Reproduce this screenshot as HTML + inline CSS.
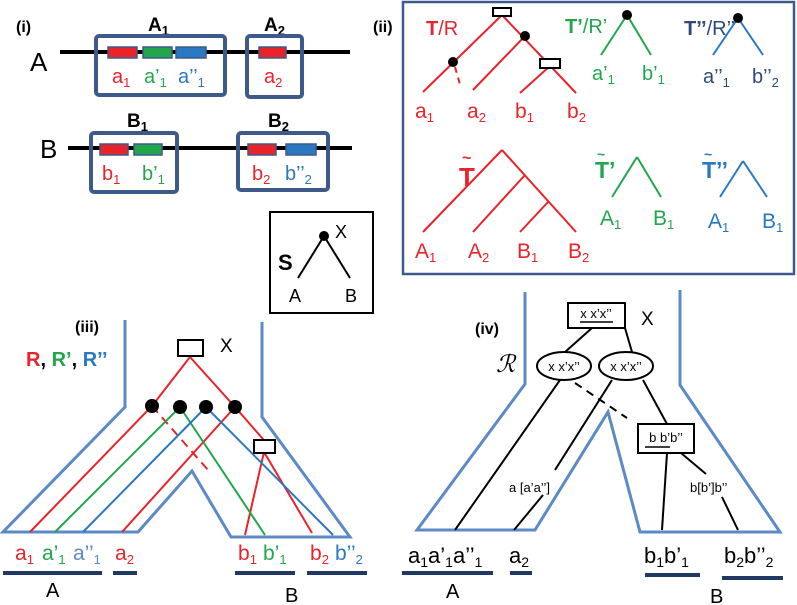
<!DOCTYPE html>
<html><head><meta charset="utf-8"><style>
html,body{margin:0;padding:0;background:#fff;}
svg{display:block;font-family:"Liberation Sans",sans-serif;}
</style></head><body>
<svg width="797" height="605" viewBox="0 0 797 605" xmlns="http://www.w3.org/2000/svg">
<defs>
<style>
.r{fill:#e8232a}.g{fill:#22a64c}.b{fill:#2a78c2}.n{fill:#2f4a7a}.k{fill:#000}
.sr{stroke:#e8232a;stroke-width:2;fill:none}
.sg{stroke:#22a64c;stroke-width:2;fill:none}
.sb{stroke:#2a78c2;stroke-width:2;fill:none}
.sk{stroke:#000;stroke-width:2;fill:none}
.ol{stroke:#5b8ac6;stroke-width:3;fill:none}
.bx{stroke:#3d5a8a;stroke-width:4;fill:none}
.bar{stroke:#1f3864;stroke-width:4}
</style>
</defs>

<!-- Panel (i) -->
<text x="16" y="32" font-size="16" font-weight="bold">(i)</text>
<text x="148" y="31" font-size="19" font-weight="bold">A<tspan font-size="13" dy="4">1</tspan></text>
<text x="264" y="31" font-size="19" font-weight="bold">A<tspan font-size="13" dy="4">2</tspan></text>
<text x="30" y="71" font-size="26">A</text>
<line x1="60" y1="52" x2="350" y2="52" stroke="#000" stroke-width="4"/>
<rect x="96" y="36" width="129" height="59" rx="3" class="bx"/>
<rect x="247" y="36" width="55" height="61" rx="3" class="bx"/>
<rect x="108" y="47" width="29" height="11" fill="#e8232a" stroke="#3d5a8a" stroke-width="1.5"/>
<rect x="143" y="47" width="29" height="11" fill="#22a64c" stroke="#3d5a8a" stroke-width="1.5"/>
<rect x="176" y="47" width="30" height="11" fill="#2a78c2" stroke="#3d5a8a" stroke-width="1.5"/>
<rect x="259" y="47" width="27" height="11" fill="#e8232a" stroke="#3d5a8a" stroke-width="1.5"/>
<text x="112" y="83" font-size="20" class="r">a<tspan font-size="13" dy="4">1</tspan></text>
<text x="144" y="83" font-size="20" class="g">a’<tspan font-size="13" dy="4">1</tspan></text>
<text x="178" y="83" font-size="20" class="b">a’’<tspan font-size="13" dy="4">1</tspan></text>
<text x="264" y="83" font-size="20" class="r">a<tspan font-size="13" dy="4">2</tspan></text>

<text x="127" y="127" font-size="19" font-weight="bold">B<tspan font-size="13" dy="4">1</tspan></text>
<text x="268" y="127" font-size="19" font-weight="bold">B<tspan font-size="13" dy="4">2</tspan></text>
<text x="40" y="158" font-size="26">B</text>
<line x1="68" y1="148" x2="352" y2="148" stroke="#000" stroke-width="4"/>
<rect x="91" y="133" width="86" height="59" rx="3" class="bx"/>
<rect x="238" y="133" width="90" height="57" rx="3" class="bx"/>
<rect x="100" y="144" width="28" height="11" fill="#e8232a" stroke="#3d5a8a" stroke-width="1.5"/>
<rect x="134" y="144" width="28" height="11" fill="#22a64c" stroke="#3d5a8a" stroke-width="1.5"/>
<rect x="248" y="144" width="28" height="11" fill="#e8232a" stroke="#3d5a8a" stroke-width="1.5"/>
<rect x="286" y="144" width="30" height="11" fill="#2a78c2" stroke="#3d5a8a" stroke-width="1.5"/>
<text x="102" y="180" font-size="20" class="r">b<tspan font-size="13" dy="4">1</tspan></text>
<text x="142" y="180" font-size="20" class="g">b’<tspan font-size="13" dy="4">1</tspan></text>
<text x="252" y="180" font-size="20" class="r">b<tspan font-size="13" dy="4">2</tspan></text>
<text x="285" y="180" font-size="20" class="b">b’’<tspan font-size="13" dy="4">2</tspan></text>

<!-- Panel (ii) -->
<text x="373" y="32" font-size="16" font-weight="bold">(ii)</text>
<rect x="403" y="2" width="391" height="272" fill="none" stroke="#3d5a8a" stroke-width="2.5"/>
<text x="426" y="35" font-size="20" class="r"><tspan font-weight="bold">T</tspan>/R</text>
<line x1="502" y1="15" x2="423" y2="92" class="sr"/>
<line x1="502" y1="15" x2="576" y2="93" class="sr"/>
<line x1="525" y1="36" x2="473" y2="90" class="sr"/>
<line x1="550" y1="66" x2="520" y2="93" class="sr"/>
<line x1="455" y1="67" x2="461" y2="88" class="sr" stroke-dasharray="6,5"/>
<rect x="493" y="8" width="18" height="8" fill="#fff" stroke="#000" stroke-width="2"/>
<rect x="540" y="59" width="20" height="9" fill="#fff" stroke="#000" stroke-width="2"/>
<circle cx="453" cy="62" r="5"/>
<circle cx="525" cy="36" r="5"/>
<text x="415" y="118" font-size="21" class="r">a<tspan font-size="13" dy="4">1</tspan></text>
<text x="467" y="118" font-size="21" class="r">a<tspan font-size="13" dy="4">2</tspan></text>
<text x="515" y="118" font-size="21" class="r">b<tspan font-size="13" dy="4">1</tspan></text>
<text x="567" y="118" font-size="21" class="r">b<tspan font-size="13" dy="4">2</tspan></text>

<text x="565" y="33" font-size="20" class="g"><tspan font-weight="bold">T’</tspan>/R’</text>
<line x1="627" y1="15" x2="601" y2="55" class="sg"/>
<line x1="627" y1="15" x2="651" y2="55" class="sg"/>
<circle cx="627" cy="15" r="5"/>
<text x="592" y="80" font-size="20" class="g">a’<tspan font-size="13" dy="4">1</tspan></text>
<text x="642" y="80" font-size="20" class="g">b’<tspan font-size="13" dy="4">1</tspan></text>

<text x="684" y="35" font-size="20" class="n"><tspan font-weight="bold">T’’</tspan>/R’’</text>
<line x1="738" y1="18" x2="713" y2="55" class="sb"/>
<line x1="738" y1="18" x2="763" y2="55" class="sb"/>
<circle cx="738" cy="18" r="5"/>
<text x="703" y="83" font-size="20" class="n">a’’<tspan font-size="13" dy="4">1</tspan></text>
<text x="752" y="83" font-size="20" class="n">b’’<tspan font-size="13" dy="4">2</tspan></text>

<text x="459" y="186" font-size="26" font-weight="bold" class="r">T</text>
<text x="462" y="163" font-size="16" font-weight="bold" class="r">~</text>
<line x1="502" y1="150" x2="423" y2="232" class="sr"/>
<line x1="502" y1="150" x2="576" y2="232" class="sr"/>
<line x1="525" y1="175" x2="473" y2="232" class="sr"/>
<line x1="549" y1="201" x2="520" y2="232" class="sr"/>
<text x="415" y="258" font-size="21" class="r">A<tspan font-size="13" dy="4">1</tspan></text>
<text x="468" y="258" font-size="21" class="r">A<tspan font-size="13" dy="4">2</tspan></text>
<text x="517" y="258" font-size="21" class="r">B<tspan font-size="13" dy="4">1</tspan></text>
<text x="568" y="258" font-size="21" class="r">B<tspan font-size="13" dy="4">2</tspan></text>

<text x="595" y="178" font-size="23" font-weight="bold" class="g">T’</text>
<text x="597" y="159" font-size="14" font-weight="bold" class="g">~</text>
<line x1="637" y1="157" x2="612" y2="197" class="sg"/>
<line x1="637" y1="157" x2="661" y2="197" class="sg"/>
<text x="600" y="225" font-size="21" class="g">A<tspan font-size="13" dy="4">1</tspan></text>
<text x="653" y="225" font-size="21" class="g">B<tspan font-size="13" dy="4">1</tspan></text>

<text x="702" y="178" font-size="23" font-weight="bold" class="b">T’’</text>
<text x="704" y="159" font-size="14" font-weight="bold" class="b">~</text>
<line x1="743" y1="161" x2="720" y2="197" class="sb"/>
<line x1="743" y1="161" x2="767" y2="197" class="sb"/>
<text x="708" y="228" font-size="21" class="b">A<tspan font-size="13" dy="4">1</tspan></text>
<text x="762" y="228" font-size="21" class="b">B<tspan font-size="13" dy="4">1</tspan></text>

<!-- S box -->
<rect x="270" y="212" width="103" height="101" fill="none" stroke="#000" stroke-width="2"/>
<text x="278" y="270" font-size="22" font-weight="bold">S</text>
<line x1="324" y1="236" x2="298" y2="278" class="sk"/>
<line x1="324" y1="236" x2="350" y2="278" class="sk"/>
<circle cx="324" cy="236" r="5"/>
<text x="335" y="238" font-size="18">X</text>
<text x="289" y="302" font-size="18">A</text>
<text x="345" y="302" font-size="18">B</text>

<!-- Panel (iii) -->
<text x="75" y="332" font-size="16" font-weight="bold">(iii)</text>
<text x="26" y="366" font-size="20" font-weight="bold"><tspan class="r">R</tspan>, <tspan class="g">R’</tspan>, <tspan class="b">R’’</tspan></text>
<polyline points="125,320 125,407 3,532 138,532 192,471 231,537 350,537 262,417 262,322" class="ol"/>
<line x1="190" y1="357" x2="152" y2="406" class="sr"/>
<line x1="190" y1="357" x2="235" y2="407" class="sr"/>
<line x1="152" y1="406" x2="30" y2="532" class="sr"/>
<line x1="152" y1="406" x2="208" y2="470" class="sr" stroke-dasharray="9,6"/>
<line x1="235" y1="407" x2="122" y2="532" class="sr"/>
<line x1="235" y1="407" x2="270" y2="447" class="sr"/>
<line x1="264" y1="452" x2="245" y2="535" class="sr"/>
<line x1="264" y1="452" x2="312" y2="533" class="sr"/>
<line x1="180" y1="407" x2="55" y2="532" class="sg"/>
<line x1="180" y1="407" x2="265" y2="535" class="sg"/>
<line x1="206" y1="407" x2="83" y2="532" class="sb"/>
<line x1="206" y1="407" x2="333" y2="535" class="sb"/>
<rect x="178" y="340" width="25" height="16" fill="#fff" stroke="#000" stroke-width="2"/>
<rect x="254" y="440" width="21" height="13" fill="#fff" stroke="#000" stroke-width="2"/>
<circle cx="152" cy="406" r="7"/><circle cx="180" cy="407" r="7"/>
<circle cx="206" cy="407" r="7"/><circle cx="235" cy="407" r="7"/>
<text x="220" y="352" font-size="19">X</text>
<text x="15" y="560" font-size="21" class="r">a<tspan font-size="13" dy="4">1</tspan></text>
<text x="42" y="560" font-size="21" class="g">a’<tspan font-size="13" dy="4">1</tspan></text>
<text x="73" y="560" font-size="21" fill="#5b8ac6">a’’<tspan font-size="13" dy="4">1</tspan></text>
<text x="115" y="560" font-size="21" class="r">a<tspan font-size="13" dy="4">2</tspan></text>
<text x="238" y="560" font-size="21" class="r">b<tspan font-size="13" dy="4">1</tspan></text>
<text x="263" y="560" font-size="21" class="g">b’<tspan font-size="13" dy="4">1</tspan></text>
<text x="310" y="560" font-size="21" class="r">b<tspan font-size="13" dy="4">2</tspan></text>
<text x="335" y="560" font-size="21" class="b">b’’<tspan font-size="13" dy="4">2</tspan></text>
<line x1="3" y1="573" x2="102" y2="573" class="bar"/>
<line x1="113" y1="573" x2="137" y2="573" class="bar"/>
<line x1="235" y1="573" x2="295" y2="573" class="bar"/>
<line x1="307" y1="573" x2="367" y2="573" class="bar"/>
<text x="46" y="597" font-size="20">A</text>
<text x="285" y="602" font-size="20">B</text>

<!-- Panel (iv) -->
<text x="475" y="334" font-size="16" font-weight="bold">(iv)</text>
<text x="496" y="372" font-size="24" font-style="italic" font-family="Liberation Serif,serif">ℛ</text>
<polyline points="525,292 525,384 417,530 535,530 608,412 640,532 780,532 680,385 680,290" class="ol"/>
<line x1="592" y1="328" x2="565" y2="352" class="sk"/>
<line x1="625" y1="328" x2="632" y2="352" class="sk"/>
<line x1="560" y1="380" x2="455" y2="530" class="sk"/>
<line x1="575" y1="383" x2="627" y2="418" class="sk" stroke-dasharray="8,6"/>
<line x1="612" y1="380" x2="555" y2="470" class="sk"/>
<line x1="543" y1="495" x2="514" y2="530" class="sk"/>
<line x1="643" y1="380" x2="667" y2="424" class="sk"/>
<line x1="667" y1="453" x2="662" y2="530" class="sk"/>
<line x1="681" y1="453" x2="706" y2="474" class="sk"/>
<line x1="722" y1="497" x2="738" y2="530" class="sk"/>
<rect x="568" y="303" width="57" height="25" fill="#fff" stroke="#000" stroke-width="2"/>
<text x="596" y="318" font-size="13" text-anchor="middle">x x’x’’</text>
<line x1="580" y1="322" x2="613" y2="322" stroke="#000" stroke-width="1.5"/>
<text x="641" y="325" font-size="19">X</text>
<ellipse cx="564" cy="366" rx="27" ry="14" fill="#fff" stroke="#000" stroke-width="2"/>
<ellipse cx="626" cy="366" rx="27" ry="14" fill="#fff" stroke="#000" stroke-width="2"/>
<text x="564" y="371" font-size="13" text-anchor="middle">x x’x’’</text>
<text x="626" y="371" font-size="13" text-anchor="middle">x x’x’’</text>
<rect x="638" y="424" width="56" height="29" fill="#fff" stroke="#000" stroke-width="2"/>
<text x="666" y="442" font-size="13" text-anchor="middle">b b’b’’</text>
<line x1="645" y1="447" x2="670" y2="447" stroke="#000" stroke-width="1.5"/>
<text x="509" y="492" font-size="13">a [a’a’’]</text>
<text x="690" y="492" font-size="13">b[b’]b’’</text>
<text x="408" y="563" font-size="22">a<tspan font-size="14" dy="4">1</tspan><tspan dy="-4">a’</tspan><tspan font-size="14" dy="4">1</tspan><tspan dy="-4">a’’</tspan><tspan font-size="14" dy="4">1</tspan></text>
<text x="509" y="563" font-size="22">a<tspan font-size="14" dy="4">2</tspan></text>
<text x="644" y="563" font-size="22">b<tspan font-size="14" dy="4">1</tspan><tspan dy="-4">b’</tspan><tspan font-size="14" dy="4">1</tspan></text>
<text x="724" y="563" font-size="22">b<tspan font-size="14" dy="4">2</tspan><tspan dy="-4">b’’</tspan><tspan font-size="14" dy="4">2</tspan></text>
<line x1="402" y1="573" x2="493" y2="573" class="bar"/>
<line x1="510" y1="573" x2="532" y2="573" class="bar"/>
<line x1="645" y1="575" x2="700" y2="575" class="bar"/>
<line x1="722" y1="578" x2="783" y2="578" class="bar"/>
<text x="446" y="598" font-size="20">A</text>
<text x="710" y="603" font-size="20">B</text>
</svg>
</body></html>
